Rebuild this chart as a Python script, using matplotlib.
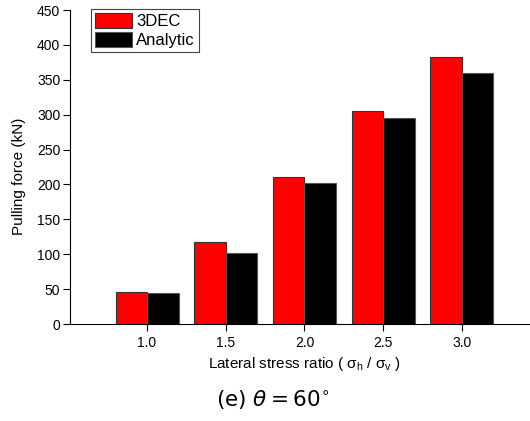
import numpy as np
import matplotlib.pyplot as plt

plt.rcParams["font.family"] = ["Liberation Sans", "DejaVu Sans"]
plt.rcParams["mathtext.fontset"] = "custom"
plt.rcParams["mathtext.rm"] = "Liberation Sans"
plt.rcParams["mathtext.it"] = "Liberation Sans"

ratios = [1.0, 1.5, 2.0, 2.5, 3.0]
tick_labels = ["1.0", "1.5", "2.0", "2.5", "3.0"]
dec3d = [46, 117, 210, 305, 383]
analytic = [44, 102, 202, 295, 360]

fig = plt.figure(figsize=(5.3, 4.21), dpi=100)
ax = fig.add_axes([70 / 530, 1 - 324 / 421, 460 / 530, 314 / 421])

x = np.array(ratios)
w = 0.2
ax.bar(x - w / 2, dec3d, width=w, color="#ff0000", edgecolor="#333333",
       linewidth=0.8, label="3DEC")
ax.bar(x + w / 2, analytic, width=w, color="#000000", edgecolor="#555555",
       linewidth=0.8, label="Analytic")

ax.set_xlim(0.511, 3.432)
ax.set_ylim(0, 450)
ax.set_yticks(np.arange(0, 451, 50))
ax.set_xticks(ratios)
ax.set_xticklabels(tick_labels)
ax.tick_params(direction="out", length=5, width=0.8, labelsize=10, pad=2)
ax.tick_params(axis="x", pad=3.5)
for side in ["top", "right"]:
    ax.spines[side].set_visible(False)
for side in ["left", "bottom"]:
    ax.spines[side].set_linewidth(0.8)

ax.set_ylabel("Pulling force (kN)", fontsize=11)
ax.set_xlabel(r"Lateral stress ratio ( $\sigma_\mathrm{h}$ / $\sigma_\mathrm{v}$ )",
              fontsize=11)
ax.yaxis.set_label_coords(-0.111, 0.471)
ax.yaxis.label.set_va("center")
ax.xaxis.set_label_coords(0.509, -0.127)
ax.xaxis.label.set_va("center")

leg = ax.legend(loc="upper left", bbox_to_anchor=(91 / 530, 1 - 9 / 421),
                bbox_transform=fig.transFigure, fontsize=12, frameon=True,
                fancybox=False, edgecolor="#444444", framealpha=1,
                handlelength=2.2, handleheight=1.0, labelspacing=0.15,
                borderpad=0.25, handletextpad=0.25, borderaxespad=0)
leg.get_frame().set_linewidth(0.8)

# caption below the chart
fig.text(273 / 530, 1 - 400 / 421, r"$\mathrm{(e)}\ \theta = 60^{\circ}$",
         ha="center", va="center", fontsize=15.5, math_fontfamily="dejavusans")

fig.savefig("out.png", dpi=100)
